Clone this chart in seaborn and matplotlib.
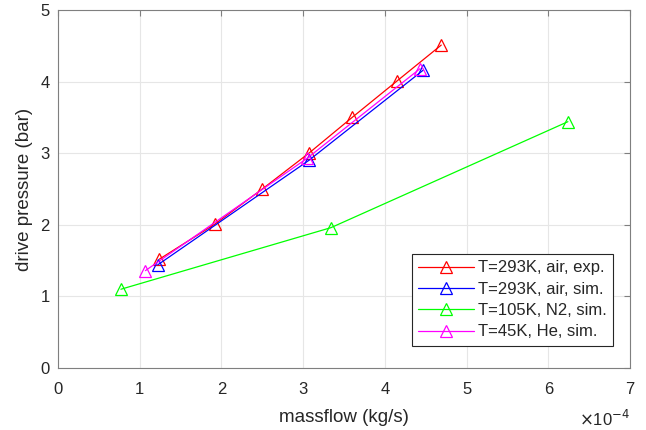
import matplotlib
matplotlib.use("Agg")
import matplotlib.pyplot as plt
import seaborn as sns
import pandas as pd

sns.set_style("white")
plt.rcParams['font.family'] = ['Liberation Sans', 'DejaVu Sans']

# massflow in units of 1e-4 kg/s, drive pressure in bar
labels = ["T=293K, air, exp.", "T=293K, air, sim.", "T=105K, N2, sim.", "T=45K, He, sim."]
colors = ["#ff0000", "#0000ff", "#00ff00", "#ff00ff"]
exp_x = [1.24, 1.92, 2.50, 3.07, 3.60, 4.15, 4.69]
exp_y = [1.52, 2.01, 2.50, 3.00, 3.50, 4.01, 4.51]
air_x = [1.22, 3.07, 4.47]
air_y = [1.44, 2.90, 4.16]
n2_x = [0.77, 3.34, 6.24]
n2_y = [1.10, 1.96, 3.44]
he_x = [1.07, 3.05, 4.43]
he_y = [1.36, 2.93, 4.18]

series = [(exp_x, exp_y), (air_x, air_y), (n2_x, n2_y), (he_x, he_y)]

W, H = 646, 430
L, R, T, B = 58, 630, 10, 368
fig = plt.figure(figsize=(W/100, H/100), dpi=100)
ax = fig.add_axes([L/W, 1-B/H, (R-L)/W, (B-T)/H])

for (xs, ys), lab, c in zip(series, labels, colors):
    df = pd.DataFrame({"x": xs, "y": ys})
    sns.lineplot(data=df, x="x", y="y", ax=ax, sort=False, color=c, label=lab,
                 marker="^", markersize=9, mfc="none", mec=c, mew=0.9, linewidth=0.9)

ax.set_xlim(0, 7)
ax.set_ylim(0, 5)
ax.set_xticks(range(0, 8))
ax.set_yticks(range(0, 6))
ax.grid(True, color="#e6e6e6", linewidth=0.8)
for s in ax.spines.values():
    s.set_color("#7f7f7f")
    s.set_linewidth(0.8)
ax.tick_params(direction="in", length=4, colors="#262626", labelsize=12,
               top=True, right=True, width=0.8, color="#7f7f7f")
ax.tick_params(axis='x', pad=10)
ax.tick_params(axis='y', pad=6)
ax.set_xlabel("massflow (kg/s)", fontsize=13.5, color="#262626", va="center")
ax.set_ylabel("drive pressure (bar)", fontsize=13.5, color="#262626", va="center")
ax.xaxis.set_label_coords(0.5, -(417-B)/(B-T))
ax.yaxis.set_label_coords(-(L-25)/(R-L), 0.5)
fig.text(R/W, 1-426/H, r"$\times$10$^{-4}$", ha="right", va="baseline",
         fontsize=12, color="#262626")

leg = ax.legend(loc="upper right", bbox_to_anchor=((613-L)/(R-L), (B-254)/(B-T)),
                fontsize=12, frameon=True, fancybox=False, edgecolor="#262626",
                framealpha=1, borderpad=0.38, labelspacing=0.38, handlelength=3.35,
                handletextpad=0.25, borderaxespad=0)
leg.get_frame().set_linewidth(0.8)

fig.savefig("out.png", dpi=100)
